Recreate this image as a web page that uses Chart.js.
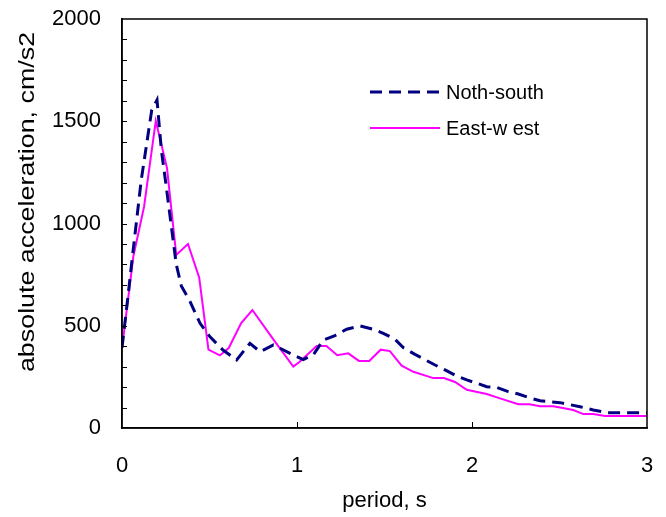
<!DOCTYPE html>
<html>
<head>
<meta charset="utf-8">
<script src="https://cdn.jsdelivr.net/npm/chart.js@4"></script>
<style>
  html, body { margin: 0; padding: 0; background: #fff; }
  #wrap { width: 666px; height: 517px; }
</style>
</head>
<body>
<div id="wrap"><canvas id="spectrum"></canvas></div>
<script>
// period (s) and absolute acceleration (cm/s2)
const periodNS = [0, 0.034, 0.053, 0.11, 0.17, 0.2, 0.225, 0.253, 0.31, 0.339, 0.389, 0.446, 0.503, 0.577,
    0.655, 0.731, 0.789, 0.865, 0.903, 0.979, 1.036, 1.093, 1.15, 1.217, 1.284, 1.36, 1.436, 1.493, 1.56,
    1.607, 1.674, 1.789, 1.846, 1.913, 1.97, 2.027, 2.084, 2.141, 2.207, 2.265, 2.331, 2.389, 2.503, 2.617,
    2.693, 2.77, 3.0];
const accelNS = [393, 642, 789, 1213, 1555, 1604, 1359, 1180, 800, 695, 618, 512, 446, 381,
    333, 414, 373, 406, 390, 357, 335, 357, 430, 452, 483, 499, 483, 463, 434,
    393, 360, 308, 284, 254, 235, 219, 202, 199, 178, 166, 147, 133, 124, 104,
    88, 75, 75];

const periodEW = [0, 0.065, 0.126, 0.193, 0.257, 0.31, 0.377, 0.441, 0.494, 0.559, 0.61, 0.681, 0.745,
    0.874, 0.979, 1.015, 1.112, 1.168, 1.23, 1.293, 1.354, 1.413, 1.478, 1.531, 1.598, 1.665, 1.779, 1.84,
    1.903, 1.97, 2.084, 2.16, 2.265, 2.327, 2.389, 2.465, 2.579, 2.636, 2.693, 2.76, 3.0];
const accelEW = [390, 840, 1082, 1502, 1272, 846, 900, 736, 383, 355, 391, 513, 577,
    422, 300, 324, 401, 401, 356, 365, 328, 328, 383, 376, 305, 275, 244, 244,
    225, 187, 166, 145, 116, 116, 106, 106, 88, 68, 68, 59, 59];

const seriesNames = ['Noth-south', 'East-w est'];
const yTitle = 'absolute acceleration, cm/s2';
const xTicks = [0, 1, 2, 3];
const yTicks = [0, 500, 1000, 1500, 2000];
const yMinorStep = 100;

const toPoints = (xs, ys) => xs.map((x, i) => ({x: x, y: ys[i]}));

// box round the plot, inward tick marks, legend inside the plot, y title
const frame = {
    id: 'frame',
    afterDatasetsDraw(chart) {
        const {ctx, chartArea: a, scales} = chart;
        ctx.save();
        ctx.strokeStyle = '#000';
        ctx.lineWidth = 1.5;
        ctx.strokeRect(a.left, a.top, a.right - a.left, a.bottom - a.top);
        ctx.lineWidth = 1;
        ctx.beginPath();
        for (let v = yMinorStep; v < scales.y.max; v += yMinorStep) {
            const py = Math.round(scales.y.getPixelForValue(v)) + 0.5;
            ctx.moveTo(a.left, py);
            ctx.lineTo(a.left + 5, py);
        }
        xTicks.slice(1, -1).forEach(v => {
            const px = Math.round(scales.x.getPixelForValue(v)) + 0.5;
            ctx.moveTo(px, a.bottom);
            ctx.lineTo(px, a.bottom - 6);
        });
        ctx.stroke();

        ctx.font = '20px "Liberation Sans", Arial, sans-serif';
        ctx.textBaseline = 'middle';
        ctx.fillStyle = '#000';
        chart.data.datasets.forEach((ds, i) => {
            const y = 92 + i * 36;
            ctx.beginPath();
            ctx.strokeStyle = ds.borderColor;
            ctx.lineWidth = ds.borderWidth;
            ctx.setLineDash(ds.borderDash || []);
            ctx.moveTo(370, y);
            ctx.lineTo(440, y);
            ctx.stroke();
            ctx.setLineDash([]);
            ctx.fillText(ds.label, 446, y + 1);
        });

        // the original axis title is set wide, so stretch it along its run
        ctx.translate(28, 202);
        ctx.rotate(-Math.PI / 2);
        ctx.scale(1.22, 1);
        ctx.font = '22px "Liberation Sans", Arial, sans-serif';
        ctx.textAlign = 'center';
        ctx.fillText(yTitle, 0, 0);
        ctx.restore();
    }
};

new Chart(document.getElementById('spectrum'), {
    type: 'scatter',
    data: {
        datasets: [{
            label: seriesNames[0],
            data: toPoints(periodNS, accelNS),
            showLine: true,
            borderColor: '#000080',
            borderWidth: 3,
            borderDash: [12, 7],
            pointRadius: 0,
            tension: 0
        }, {
            label: seriesNames[1],
            data: toPoints(periodEW, accelEW),
            showLine: true,
            borderColor: '#ff00ff',
            borderWidth: 2,
            pointRadius: 0,
            tension: 0
        }]
    },
    options: {
        responsive: true,
        maintainAspectRatio: false,
        animation: false,
        layout: {padding: {top: 19, right: 19, left: 0, bottom: 0}},
        plugins: {
            legend: {display: false},
            tooltip: {enabled: false}
        },
        scales: {
            x: {
                type: 'linear',
                min: 0,
                max: 3,
                afterBuildTicks: s => { s.ticks = xTicks.map(v => ({value: v})); },
                afterFit: s => { s.height = 89; s.paddingLeft = 0; s.paddingRight = 0; },
                grid: {display: false, drawTicks: false},
                border: {display: true, color: '#000', width: 1.5},
                ticks: {
                    color: '#000',
                    padding: 25,
                    maxRotation: 0,
                    callback: v => String(v),
                    font: {family: '"Liberation Sans", Arial, sans-serif', size: 22}
                },
                title: {
                    display: true,
                    text: 'period, s',
                    color: '#000',
                    padding: {top: 0, bottom: 3},
                    font: {family: '"Liberation Sans", Arial, sans-serif', size: 22}
                }
            },
            y: {
                min: 0,
                max: 2000,
                afterBuildTicks: s => { s.ticks = yTicks.map(v => ({value: v})); },
                afterFit: s => { s.width = 122; s.paddingTop = 0; s.paddingBottom = 0; },
                grid: {display: false, drawTicks: false},
                border: {display: true, color: '#000', width: 1.5},
                ticks: {
                    color: '#000',
                    padding: 21,
                    callback: v => String(v),
                    font: {family: '"Liberation Sans", Arial, sans-serif', size: 22}
                },
                title: {display: false}
            }
        }
    },
    plugins: [frame]
});
</script>
</body>
</html>
